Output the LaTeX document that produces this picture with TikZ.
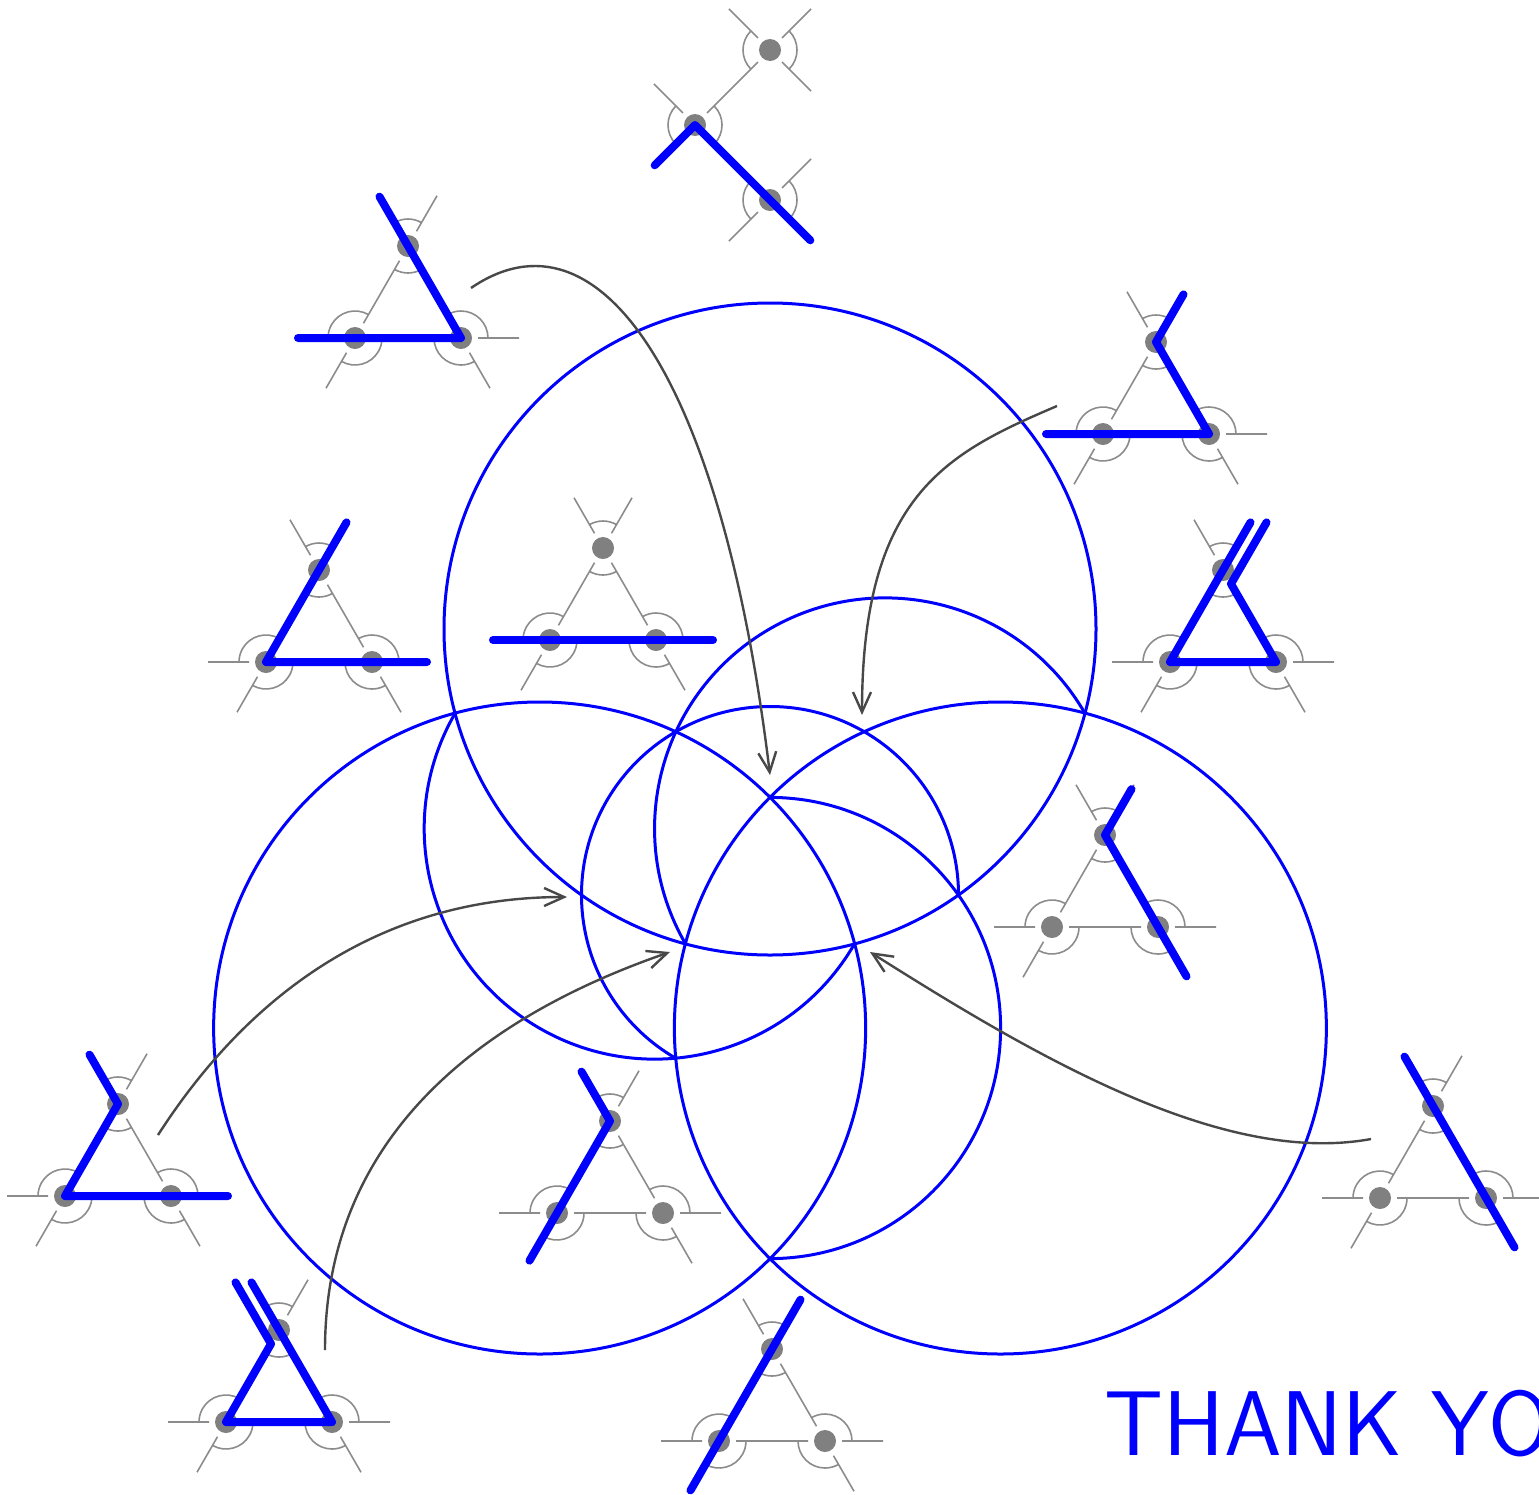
\documentclass[tikz,border=0pt]{standalone}
\usepackage{fontspec}
\usetikzlibrary{calc,arrows.meta}
\definecolor{gr}{RGB}{140,140,140}
\definecolor{dotc}{RGB}{128,128,128}
\definecolor{arr}{RGB}{72,72,72}
\tikzset{
  vtx/.style={circle,minimum size=34pt,inner sep=0pt,outer sep=0pt,
    path picture={\fill[dotc] (path picture bounding box.center) circle (11pt);}},
  gline/.style={draw=gr,line width=1.6pt},
  bigc/.style={draw=blue,line width=3pt},
  bpath/.style={draw=blue,line width=8pt,line cap=round,line join=round},
  arrw/.style={draw=arr,line width=2.4pt,-{Straight Barb[length=20pt,width=18pt]}},
}
\newcommand{\tri}[3]{%
  \node[vtx] (#1t) at (#2,-#3) {};
  \node[vtx] (#1l) at (#2-53,-#3-92) {};
  \node[vtx] (#1r) at (#2+53,-#3-92) {};
  \draw[gline] (#1t) -- (#1l) (#1t) -- (#1r) (#1l) -- (#1r);
  \draw[gline] (#1t.60) -- ++(60:41) (#1t.120) -- ++(120:41)
     (#1l.180) -- ++(180:41) (#1l.240) -- ++(240:41)
     (#1r.0) -- ++(0:41) (#1r.300) -- ++(300:41);
  \draw[gline]
     (#1t.center) ++(60:27) arc[start angle=60,end angle=120,radius=27]
     (#1t.center) ++(240:27) arc[start angle=240,end angle=300,radius=27]
     (#1l.center) ++(60:27) arc[start angle=60,end angle=180,radius=27]
     (#1l.center) ++(240:27) arc[start angle=240,end angle=360,radius=27]
     (#1r.center) ++(0:27) arc[start angle=0,end angle=120,radius=27]
     (#1r.center) ++(180:27) arc[start angle=180,end angle=300,radius=27];
}
\begin{document}
\begin{tikzpicture}[x=1pt,y=1pt]
\useasboundingbox (0,0) rectangle (1539,-1494);
\clip (0,0) rectangle (1539,-1494);
% ---------- circles ----------
\coordinate (O) at (770,-895);
\coordinate (ct) at ($(O)+(90:266)$);
\coordinate (cl) at ($(O)+(210:266)$);
\coordinate (cr) at ($(O)+(330:266)$);
\draw[bigc] (ct) circle[radius=326];
\draw[bigc] (cl) circle[radius=326];
\draw[bigc] (cr) circle[radius=326];
\draw[bigc] ($(O)+(30:363.6)$) arc[start angle=30,end angle=210,radius=230.6];
\draw[bigc] ($(O)+(150:363.6)$) arc[start angle=150,end angle=330,radius=230.6];
\draw[bigc] ($(O)+(270:363.6)$) arc[start angle=-90,end angle=90,radius=230.6];
\draw[bigc] ($(O)+(0:188.5)$) arc[start angle=0,end angle=240,radius=188.5];
% ---------- arrows ----------
\coordinate (a1s) at (471,-288);  \coordinate (a1e) at (770,-775);
\coordinate (a2s) at (1057,-406); \coordinate (a2e) at (862,-715);
\coordinate (a3s) at (158,-1135); \coordinate (a3e) at (567,-897);
\coordinate (a4s) at (325,-1350); \coordinate (a4e) at (670,-952);
\coordinate (a5s) at (1371,-1139);\coordinate (a5e) at (870,-952);
\draw[arrw] (a1s) .. controls (600,-200) and (722,-379) .. (a1e);
\draw[arrw] (a2s) .. controls (947,-453) and (862,-495) .. (a2e);
\draw[arrw] (a3s) .. controls (239,-1009) and (367,-897) .. (a3e);
\draw[arrw] (a4s) .. controls (325,-1150) and (462,-1024) .. (a4e);
\draw[arrw] (a5s) .. controls (1224,-1166) and (1039,-1059) .. (a5e);
% ---------- path motif (top) ----------
\node[vtx] (pa) at (695,-125) {};
\node[vtx] (pb) at (770,-50) {};
\node[vtx] (pc) at (770,-200) {};
\draw[gline] (pa) -- (pb) (pa) -- (pc);
\draw[gline] (pa.135) -- ++(135:41) (pa.225) -- ++(225:41)
  (pb.45) -- ++(45:41) (pb.135) -- ++(135:41) (pb.315) -- ++(315:41)
  (pc.45) -- ++(45:41) (pc.225) -- ++(225:41) (pc.315) -- ++(315:41);
\draw[gline]
  (pa.center) ++(135:27) arc[start angle=135,end angle=225,radius=27]
  (pa.center) ++(-45:27) arc[start angle=-45,end angle=45,radius=27]
  (pb.center) ++(135:27) arc[start angle=135,end angle=225,radius=27]
  (pb.center) ++(-45:27) arc[start angle=-45,end angle=45,radius=27]
  (pc.center) ++(135:27) arc[start angle=135,end angle=225,radius=27]
  (pc.center) ++(-45:27) arc[start angle=-45,end angle=45,radius=27];
% ---------- triangle motifs ----------
\tri{m2}{408}{246}
\tri{m3}{1156}{342}
\tri{m4}{319}{570}
\tri{m5}{603}{548}
\tri{m6}{1223}{570}
\tri{m7}{1105}{835}
\tri{m8}{118}{1104}
\tri{m9}{610}{1121}
\tri{m10}{1433}{1106}
\tri{m11}{279}{1330}
\tri{m12}{772}{1349}
% ---------- blue paths ----------
\draw[bpath] ($(pa.center)+(225:57)$) -- (pa.center) -- (pc.center) -- ($(pc.center)+(315:57)$);
\draw[bpath] ($(m2t.center)+(120:57)$) -- (m2t.center) -- (m2r.center) -- ($(m2l.center)+(180:57)$);
\draw[bpath] ($(m3t.center)+(60:55)$) -- (m3t.center) -- (m3r.center) -- ($(m3l.center)+(180:57)$);
\draw[bpath] ($(m4t.center)+(60:55)$) -- (m4t.center) -- (m4l.center) -- ($(m4r.center)+(0:55)$);
\draw[bpath] ($(m5l.center)+(180:57)$) -- ($(m5r.center)+(0:57)$);
\coordinate (m6k) at ($(m6t.center)+(300:16)$);
\draw[bpath] ($(m6k)+(60:71)$) -- (m6k) -- (m6r.center) -- (m6l.center) -- (m6t.center) -- ($(m6t.center)+(60:55)$);
\draw[bpath] ($(m7t.center)+(60:53)$) -- (m7t.center) -- (m7r.center) -- ($(m7r.center)+(300:57)$);
\draw[bpath] ($(m8t.center)+(120:57)$) -- (m8t.center) -- (m8l.center) -- ($(m8r.center)+(0:57)$);
\draw[bpath] ($(m9t.center)+(120:57)$) -- (m9t.center) -- (m9l.center) -- ($(m9l.center)+(240:55)$);
\draw[bpath] ($(m10t.center)+(120:57)$) -- ($(m10r.center)+(300:57)$);
\coordinate (m11k) at ($(m11t.center)+(240:16)$);
\draw[bpath] ($(m11k)+(120:71)$) -- (m11k) -- (m11l.center) -- (m11r.center) -- (m11t.center) -- ($(m11t.center)+(120:55)$);
\draw[bpath] ($(m12t.center)+(60:57)$) -- ($(m12l.center)+(240:57)$);
% ---------- text ----------
\node[anchor=base west,inner sep=0pt,text=blue,font=\sffamily\fontsize{92}{100}\selectfont] (thanks) at (1104,-1455) {THANK YOU};
\end{tikzpicture}
\end{document}
